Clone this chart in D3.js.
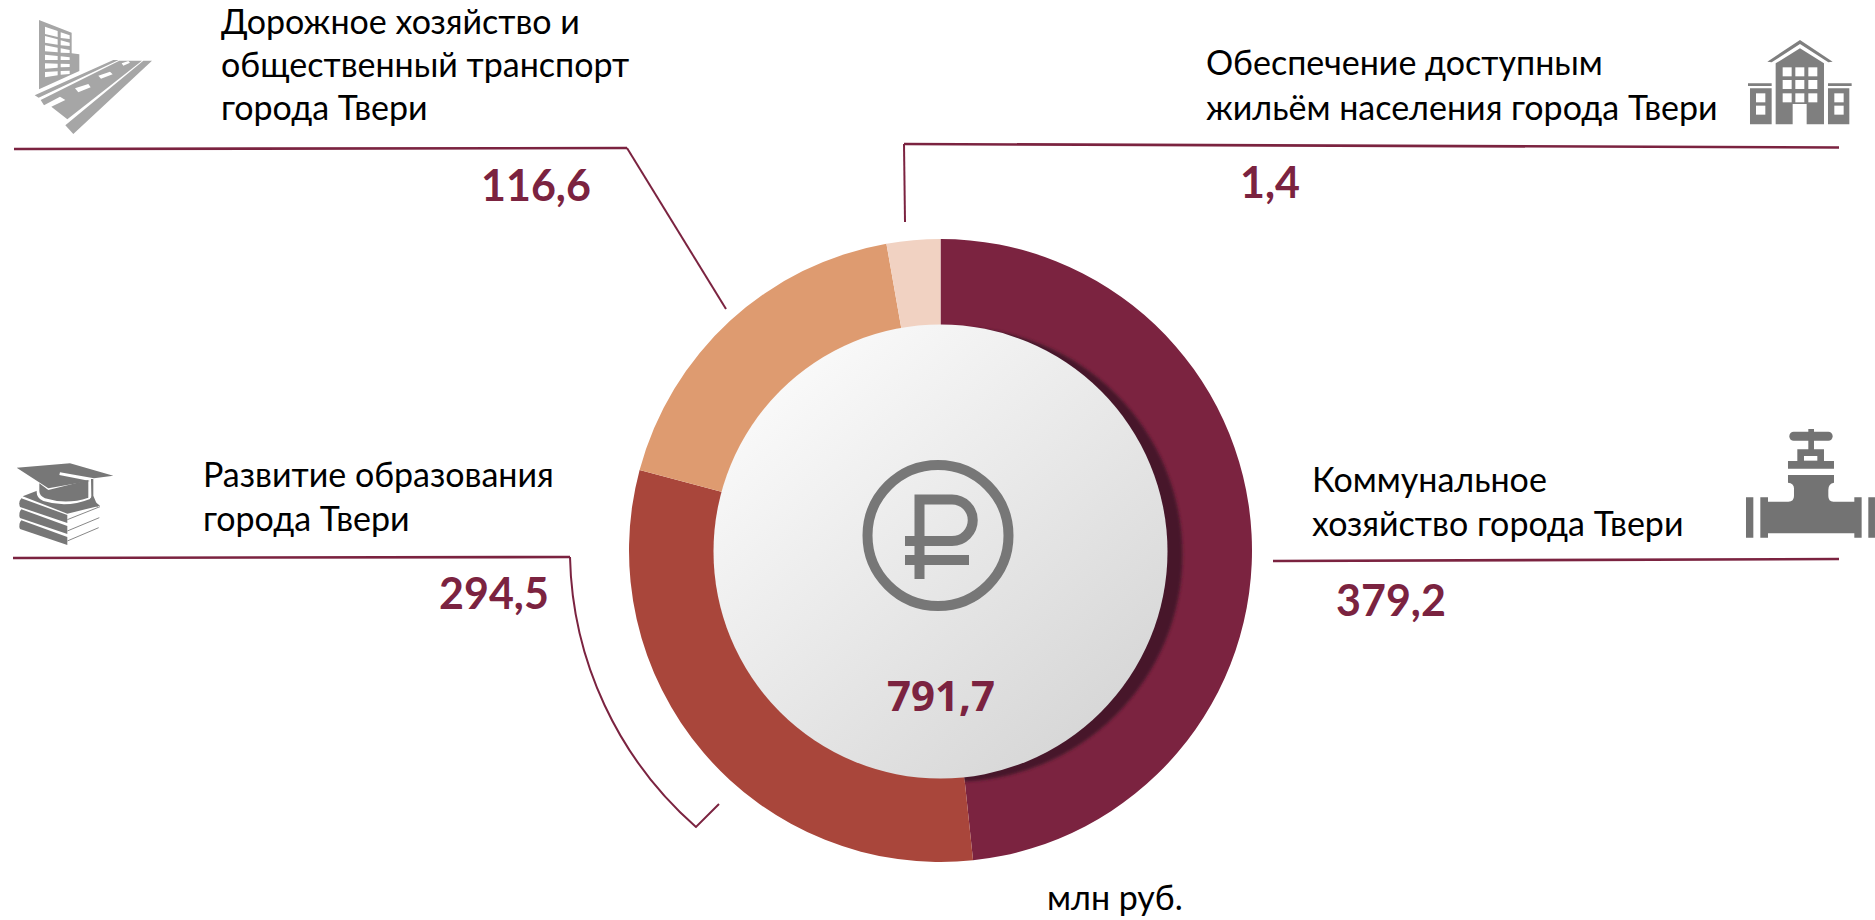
<!DOCTYPE html>
<html>
<head>
<meta charset="UTF-8">
<style>
    html, body { margin: 0; padding: 0; background: #fff; }
    svg { display: block; }
    .label { font-family: Lato, "Open Sans", sans-serif; font-size: 34px; fill: #000; }
    .value { font-family: Lato, "Open Sans", sans-serif; font-size: 43px; font-weight: 700; fill: #7b2340; }
    .total { font-family: "Open Sans", sans-serif; font-size: 42px; font-weight: 700; fill: #7b2340; }
    .leader { fill: none; stroke: #7b2340; stroke-width: 2; }
    .rule { fill: none; stroke: #7b2340; stroke-width: 2.6; }
    .white { fill: #fff; stroke: none; }
</style>
</head>
<body>
<script src="https://d3js.org/d3.v7.min.js"></script>
<script>
// printed figures, млн руб.
var categories = [
    ["Коммунальное", "хозяйство города Твери"],
    ["Развитие образования", "города Твери"],
    ["Дорожное хозяйство и", "общественный транспорт", "города Твери"],
    ["Обеспечение доступным", "жильём населения города Твери"]
];
var valueLabels = ["379,2", "294,5", "116,6", "1,4"];
var totalLabel = "791,7";
var unitLabel = "млн руб.";
// the ring in the picture does not follow the printed figures (1,4 gets about 10 degrees),
// so the slices use the angles read off the ring
var sliceDegrees = [174, 111, 65, 10];
var sliceColors = ["#7b2340", "#a9463b", "#de9b70", "#f1d2c2"];

var width = 1875, height = 920;
var cx = 940.5, cy = 550.5, outerR = 311.5, innerR = 227;

var svg = d3.select("body").append("svg").attr("width", width).attr("height", height);
var defs = svg.append("defs");

var faceGrad = defs.append("linearGradient").attr("id", "face")
    .attr("x1", "12%").attr("y1", "8%").attr("x2", "85%").attr("y2", "92%");
faceGrad.append("stop").attr("offset", "0%").attr("stop-color", "#fbfbfb");
faceGrad.append("stop").attr("offset", "100%").attr("stop-color", "#d6d6d6");

defs.append("filter").attr("id", "blur").append("feGaussianBlur").attr("stdDeviation", 1.5);

var pie = d3.pie().sort(null).value(function(d) { return d; });
var arc = d3.arc().innerRadius(innerR - 3).outerRadius(outerR);
var slices = pie(sliceDegrees);

var ring = svg.append("g").attr("transform", "translate(" + cx + "," + cy + ")");
ring.selectAll("path").data(slices).enter().append("path")
    .attr("d", arc)
    .attr("fill", function(d, i) { return sliceColors[i]; });

// shadow of the centre disc only falls on the first slice
defs.append("clipPath").attr("id", "firstSlice").append("path").attr("d", arc(slices[0]));
ring.append("g").attr("clip-path", "url(#firstSlice)")
    .append("circle")
    .attr("cx", 15).attr("cy", 4).attr("r", innerR)
    .attr("fill", "#47182a")
    .attr("filter", "url(#blur)");

svg.append("circle")
    .attr("cx", cx).attr("cy", cy + 1).attr("r", innerR)
    .attr("fill", "url(#face)");

// leader lines
var line = d3.line();
svg.append("path").attr("class", "rule").attr("d", line([[14, 149], [627, 148]]));
svg.append("path").attr("class", "leader").attr("d", line([[627, 148], [726, 309]]));
svg.append("path").attr("class", "rule").attr("d", line([[1839, 147.5], [904, 144]]));
svg.append("path").attr("class", "leader").attr("d", line([[904, 144], [905, 222]]));
svg.append("path").attr("class", "rule").attr("d", line([[1273, 561], [1839, 559]]));
svg.append("path").attr("class", "rule").attr("d", line([[13, 558], [570, 557]]));
svg.append("path").attr("class", "leader")
    .attr("d", "M570,557 A370,370 0 0 0 696,827 L719,804");

// labels, same order as categories
var labelX = [1312, 203, 221, 1206];
var labelY = [[492, 536], [486.5, 531], [34, 77, 120], [75, 120]];
categories.forEach(function(lines, i) {
    lines.forEach(function(t, j) {
        svg.append("text").attr("class", "label").attr("x", labelX[i]).attr("y", labelY[i][j]).text(t);
    });
});

var valuePos = [[1336, 616], [439, 609], [481, 201], [1240, 198]];
valueLabels.forEach(function(v, i) {
    svg.append("text").attr("class", "value").attr("x", valuePos[i][0]).attr("y", valuePos[i][1]).text(v);
});
svg.append("text").attr("class", "total").attr("x", 941).attr("y", 711).attr("text-anchor", "middle").text(totalLabel);
svg.append("text").attr("class", "label").attr("x", 1047).attr("y", 910).text(unitLabel);

// ruble icon
var rub = svg.append("g").attr("fill", "none").attr("stroke", "#777").attr("stroke-width", 10);
rub.append("circle").attr("cx", 938).attr("cy", 535.5).attr("r", 70.5);
rub.append("path").attr("d", "M919.5,579 V499.5 H952 A20.75,20.75 0 0 1 952,541 H905 M905,560 H969");

// pictograms, drawn at 3x and scaled down
function pictogram(x, y, color) {
    return svg.append("g")
        .attr("transform", "translate(" + x + "," + y + ") scale(0.3333)")
        .attr("fill", color);
}
function shape(g, d, cls) {
    var p = g.append("path").attr("d", d);
    if (cls) p.attr("class", cls);
    return p;
}

// road and building
var road = pictogram(20, 10, "#a6a6a6");
shape(road, "M57,30 L155,68 V130 L178,133 V183 L57,238 Z");
[[50, 72], [78, 98], [106, 124], [134, 150], [160, 176], [186, 202]].forEach(function(r, i) {
    shape(road, "M75," + r[0] + " L113," + (r[0] + 13 - i * 3) + " V" + (r[1] + 9 - i * 3) + " L75," + r[1] + " Z", "white");
    shape(road, "M122," + (r[0] + 17 - i * 4) + " L149," + (r[0] + 26 - i * 6) + " V" + (r[1] + 15 - i * 5) + " L122," + (r[1] + 12 - i * 4) + " Z", "white");
});
shape(road, "M44,256 L280,150 H296 L56,263 Z M62,270 L298,152 H366 L142,328 L94,290 L136,270 L120,260 L72,286 Z M370,152 H396 L160,372 L136,346 Z");
shape(road, "M165,235 L205,222 L212,232 L175,247 Z M235,197 L270,185 L278,193 L243,206 Z M305,160 L325,153 L330,158 L310,167 Z", "white");

// house
var house = pictogram(1740, 30, "#7f7f7f");
shape(house, "M82,95 L180,30 L278,95 L265,97 L180,42 L95,97 Z");
shape(house, "M107,100 L180,55 L252,100 V283 H200 V222 H158 V283 H107 Z");
shape(house, "M24,160 H95 V168 H24 Z M264,160 H335 V168 H264 Z M30,175 H95 V283 H30 Z M264,175 H328 V283 H264 Z");
[128, 166, 205].forEach(function(wx) {
    [112, 150, 190].forEach(function(wy) {
        house.append("rect").attr("class", "white").attr("x", wx).attr("y", wy).attr("width", 27).attr("height", 27);
    });
});
[48, 283].forEach(function(wx) {
    [190, 227].forEach(function(wy) {
        house.append("rect").attr("class", "white").attr("x", wx).attr("y", wy).attr("width", 28).attr("height", 27);
    });
});

// books and cap
var books = pictogram(10, 455, "#777");
[130, 163, 196].forEach(function(y0) {
    shape(books, "M34," + y0 + " Q24," + (y0 + 12) + " 30," + (y0 + 26) + " L172," + (y0 + 74) + " V" + (y0 + 50) + " Z");
});
shape(books, "M38,124 L85,106 L240,128 L270,152 L172,176 Z");
books.append("path").attr("d", "M172,194 L270,155 M172,228 L268,188 M172,258 L266,218")
    .attr("fill", "none").attr("stroke", "#888").attr("stroke-width", 3);
shape(books, "M80,80 H240 V132 Q170,160 100,138 Q80,130 80,110 Z", "white");
shape(books, "M88,85 L115,105 L235,75 V128 Q170,150 105,130 Q88,122 88,108 Z");
shape(books, "M20,38 L180,25 L310,62 L252,70 L150,52 L148,60 L240,78 L115,100 Z");
shape(books, "M243,72 H250 V122 L264,155 L240,150 L244,122 Z");

// valve
var valve = pictogram(1700, 420, "#737373");
valve.append("rect").attr("x", 268).attr("y", 35).attr("width", 130).attr("height", 27).attr("rx", 13);
shape(valve, "M325,27 H342 V88 H372 V123 H402 V146 H264 V123 H292 V88 H325 Z");
valve.append("rect").attr("class", "white").attr("x", 312).attr("y", 108).attr("width", 40).attr("height", 14);
shape(valve, "M264,165 H402 V188 Q385,190 385,210 V228 Q385,245 400,245 H463 V232 H485 V353 H463 V340 H204 V353 H181 V232 H204 V245 H265 Q282,245 282,228 V205 Q282,190 264,188 Z");
shape(valve, "M138,232 H160 V353 H138 Z M505,232 H525 V353 H505 Z");
</script>
</body>
</html>
